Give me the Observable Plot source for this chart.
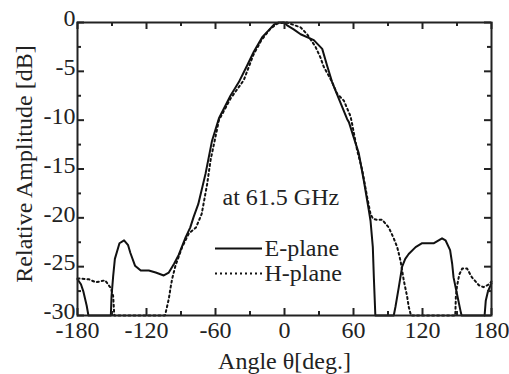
<!DOCTYPE html>
<html><head><meta charset="utf-8">
<script src="https://cdn.jsdelivr.net/npm/d3@7"></script>
<script src="https://cdn.jsdelivr.net/npm/@observablehq/plot@0.6"></script>
<style>
html,body{margin:0;padding:0;background:#fff;}
#chart svg, #chart svg text, #chart svg tspan { font-family: 'Liberation Serif', serif !important; }
</style>
</head><body><div id="chart"></div>
<script>
// E-plane (solid)
const eTheta = [-180,-177,-175,-172,-170.5,-151,-150.4,-149,-147.5,-143.5,-139.5,-136,-134,-130,-125,-118,-112,-105,-100.6,-96,-92,-86,-82,-79,-75,-68.7,-63,-57,-47,-39.7,-32.5,-26.7,-19.4,-13,-9,-5,0,2.3,8,14,25.5,32.8,37,41.4,47.2,54.5,56,64.6,69,73.3,74.8,76.8,77.7,79,95,96.5,99.4,102.3,105,108,114,119.7,130,137,140,144,145.8,147,150,153,154,174,175,177,180];
const eDb = [-26.3,-26.8,-27.5,-29,-30,-30,-28,-26,-24.2,-22.6,-22.3,-22.8,-23.6,-24.9,-25.4,-25.4,-25.6,-25.9,-25.6,-24.7,-23.8,-22,-21,-19.9,-18.6,-15.5,-12.1,-9.8,-7.5,-6.1,-4.4,-3,-1.5,-0.7,-0.2,0,0,-0.3,-0.7,-1.2,-1.8,-2.7,-4.4,-6.1,-7.8,-9.9,-10.2,-13.4,-16.2,-19.2,-20.3,-23,-26.1,-30,-30,-29.1,-27.1,-25,-24.2,-23.7,-23,-22.6,-22.6,-22.1,-22.3,-23.3,-24.7,-26.1,-27.8,-29.5,-30,-30,-28.5,-27.5,-26.7];
// H-plane (dotted)
const hTheta = [-180,-170,-164,-156,-151,-149,-148,-104,-103.5,-100.6,-99,-97.6,-94.8,-89,-83.2,-77,-72,-67.2,-64.3,-60,-57,-47,-35.4,-27,-20,-12,-6,0,2,14,19.7,27,31.3,34,41,45.8,51.6,57.4,59,63.2,67.6,71.9,74.8,77,80.6,85,90.7,95,98,100.9,103.7,106.7,108,110,148.5,149,150,152,154.5,158.8,163,169,173,178,180];
const hDb = [-26.2,-26.3,-26.6,-26.4,-27.2,-28,-30,-30,-29.8,-28.3,-27.1,-26.2,-24.9,-23,-21.6,-21,-19.6,-16.5,-14.1,-11.7,-10,-7.8,-5.9,-3.3,-1.8,-0.6,-0.1,0,0,-0.5,-1.2,-2.5,-3.6,-4.5,-6,-7.3,-8,-9.6,-10.5,-13.1,-15.1,-17.9,-19.6,-20.1,-20.2,-20.2,-21,-22.1,-23,-24.4,-26.4,-28.1,-29.1,-30,-30,-28.1,-27,-25.8,-25.2,-25.2,-26.1,-26.9,-27.1,-26.8,-26.5];

const xTicks = [-180,-120,-60,0,60,120,180];
const xMinorTicks = [-150,-90,-30,30,90,150];
const yTicks = [0,-5,-10,-15,-20,-25,-30];
const yMinorTicks = [-2.5,-7.5,-12.5,-17.5,-22.5,-27.5];
const seriesNames = ["E-plane","H-plane"];
const annotation = "at 61.5 GHz";
const yLabel = "Relative Amplitude [dB]";
const xLabelParts = ["Angle ", "θ", "[deg.]"];

const eData = eTheta.map((t,i)=>({theta:t, db:eDb[i]}));
const hData = hTheta.map((t,i)=>({theta:t, db:hDb[i]}));

const W = 509, H = 374, mL = 77, mR = 18, mT = 22, mB = 59;
const ih = H - mT - mB, iw = W - mL - mR;
const ink = "#222";
const ff = "Liberation Serif, serif";
const fs = 24;
const txt = {fontFamily: ff, fontSize: fs, fill: ink};

const chart = Plot.plot({
  width: W, height: H,
  marginLeft: mL, marginRight: mR, marginTop: mT, marginBottom: mB,
  style: {fontSize: fs + "px", fontFamily: ff, color: ink, background: "#fff"},
  x: {domain: [-180, 180]},
  y: {domain: [-30, 0]},
  marks: [
    Plot.line(eData, {x: "theta", y: "db", stroke: "#111", strokeWidth: 2}),
    Plot.line(hData, {x: "theta", y: "db", stroke: "#111", strokeWidth: 2, strokeDasharray: "2,3"}),
    // inward ticks
    Plot.ruleX(xTicks, {stroke: ink, strokeWidth: 2, insetTop: ih - 7}),
    Plot.ruleX(xMinorTicks, {stroke: ink, strokeWidth: 2, insetTop: ih - 4}),
    Plot.ruleX(xTicks, {stroke: ink, strokeWidth: 2, insetBottom: ih - 7}),
    Plot.ruleX(xMinorTicks, {stroke: ink, strokeWidth: 2, insetBottom: ih - 4}),
    Plot.ruleY(yTicks, {stroke: ink, strokeWidth: 2, insetRight: iw - 7}),
    Plot.ruleY(yMinorTicks, {stroke: ink, strokeWidth: 2, insetRight: iw - 4}),
    Plot.ruleY(yTicks, {stroke: ink, strokeWidth: 2, insetLeft: iw - 7}),
    Plot.ruleY(yMinorTicks, {stroke: ink, strokeWidth: 2, insetLeft: iw - 4}),
    Plot.frame({stroke: ink, strokeWidth: 2}),
    Plot.axisX(xTicks, {tickSize: 0, tickPadding: 5, tickFormat: d => String(d), label: null, ...txt}),
    Plot.axisY(yTicks, {tickSize: 0, tickPadding: 2, dy: -4, tickFormat: d => String(d), label: null, ...txt}),
    // axis titles
    Plot.text([yLabel], {frameAnchor: "left", rotate: -90, dx: -53, dy: -5, textAnchor: "middle", text: d => d, ...txt}),
    Plot.text([xLabelParts.join("")], {frameAnchor: "bottom", dy: 46, textAnchor: "middle", lineAnchor: "middle", text: d => d, ariaLabel: "xtitle", ...txt}),
    // annotation
    Plot.text([annotation], {frameAnchor: "top-left", dx: 145, dy: 175, textAnchor: "start", lineAnchor: "middle", text: d => d, ...txt}),
    // legend
    Plot.ruleY([0], {insetLeft: 138, insetRight: iw - 185, dy: 226, stroke: "#111", strokeWidth: 2}),
    Plot.ruleY([0], {insetLeft: 138, insetRight: iw - 185, dy: 251, stroke: "#111", strokeWidth: 2, strokeDasharray: "2,3"}),
    Plot.text([seriesNames[0]], {frameAnchor: "top-left", dx: 187, dy: 226, textAnchor: "start", lineAnchor: "middle", text: d => d, ...txt}),
    Plot.text([seriesNames[1]], {frameAnchor: "top-left", dx: 187, dy: 251, textAnchor: "start", lineAnchor: "middle", text: d => d, ...txt})
  ]
});
document.getElementById("chart").appendChild(chart);
const root = d3.select(chart);
root.attr("font-family", ff).style("font-family", ff);
root.selectAll("g").each(function() { if (this.getAttribute("font-family")) this.setAttribute("font-family", ff); });
root.selectAll("text").attr("font-family", ff).style("font-family", ff);

// italic theta in the x-axis title
const xt = root.select("g[aria-label='xtitle'] text");
xt.text(null);
xt.append("tspan").text(xLabelParts[0]);
xt.append("tspan").attr("font-style", "italic").text(xLabelParts[1]);
xt.append("tspan").text(xLabelParts[2]);
</script>
</body></html>
